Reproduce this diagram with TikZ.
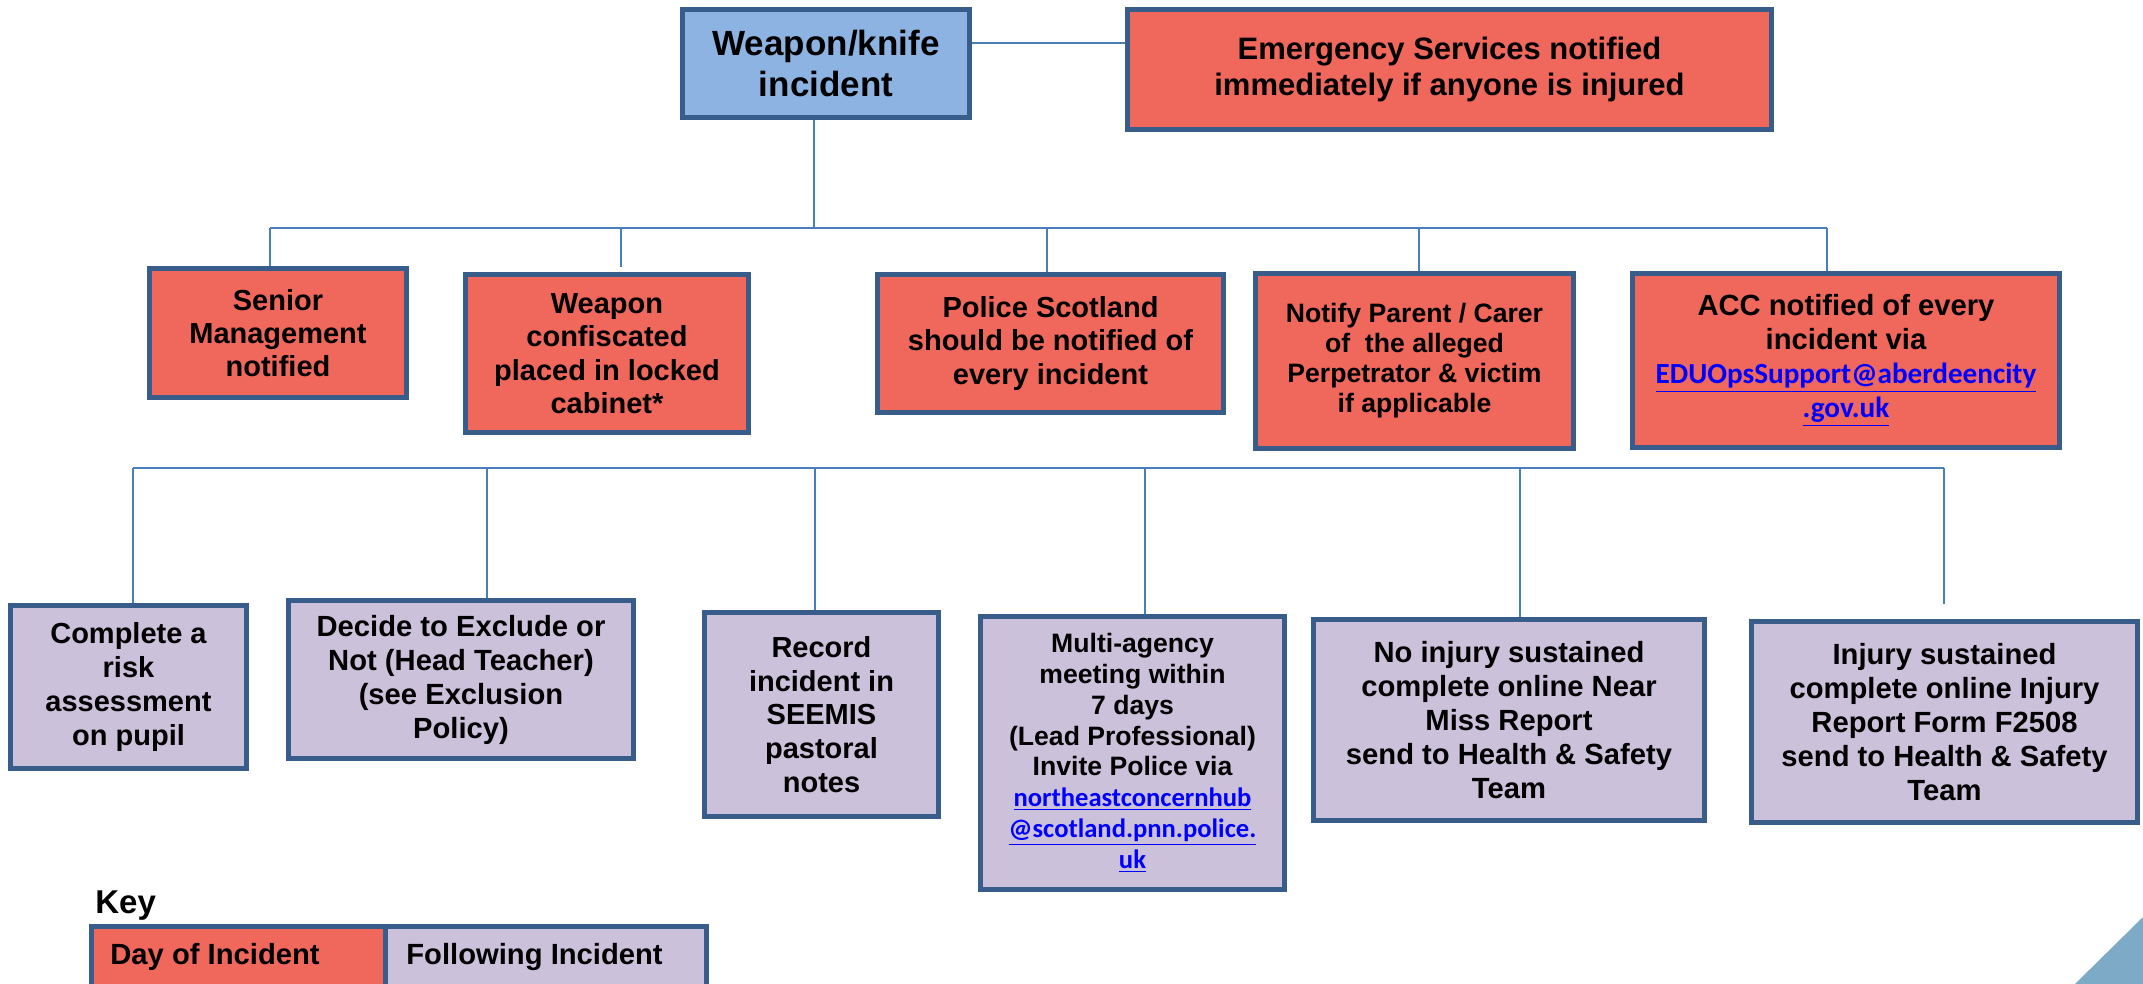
\documentclass[tikz,border=0pt]{standalone}
\usepackage{fontspec}
\setmainfont{Liberation Sans}
\newfontfamily\linkfont{Carlito}
\usepackage{tikz}

\definecolor{boxline}{HTML}{385D8A}
\definecolor{wireblue}{HTML}{4A7EBB}
\definecolor{dayred}{HTML}{F0675C}
\definecolor{laterlilac}{HTML}{CCC1DA}
\definecolor{topblue}{HTML}{8DB3E2}
\definecolor{cornerblue}{HTML}{7DAAC7}
\definecolor{maillink}{HTML}{0000FF}

\newcommand{\maillink}[1]{{\linkfont\color{maillink}\underline{#1}}}

\tikzset{
  flowbox/.style={draw=boxline, line width=2.5pt, align=center, inner sep=0pt},
  daybox/.style={flowbox, fill=dayred},
  laterbox/.style={flowbox, fill=laterlilac},
  wire/.style={draw=wireblue, line width=0.75pt}
}

\begin{document}
\begin{tikzpicture}[x=0.5pt, y=-0.5pt]
        \useasboundingbox (0, 0) rectangle (2143, 984);

        % The incident and the emergency services
        \node[flowbox, fill=topblue, minimum width=143.5pt, minimum height=54pt,
              font=\fontsize{17.5}{20.5}\selectfont\bfseries] (incident) at (826, 63.5)
              {Weapon/knife\\incident};
        \node[daybox, minimum width=322pt, minimum height=60pt,
              font=\fontsize{15.5}{18}\selectfont\bfseries] (emergency) at (1449.5, 69.5)
              {Emergency Services notified\\immediately if anyone is injured};
        \draw[wire] (incident.8) -- (incident.8 -| emergency.west);

        % Day of incident
        \node[daybox, minimum width=128.5pt, minimum height=64.5pt,
              font=\fontsize{14.5}{16.5}\selectfont\bfseries] (senior) at (278, 333)
              {Senior\\Management\\notified};
        \node[daybox, minimum width=141.5pt, minimum height=79pt,
              font=\fontsize{14.5}{16.7}\selectfont\bfseries] (cabinet) at (607, 353.5)
              {Weapon\\confiscated\\placed in locked\\cabinet*};
        \node[daybox, minimum width=173pt, minimum height=69pt,
              font=\fontsize{14.5}{16.7}\selectfont\bfseries] (police) at (1050.5, 343.5)
              {Police Scotland\\should be notified of\\every incident};
        \node[daybox, minimum width=159pt, minimum height=87.5pt,
              font=\fontsize{13.3}{15}\selectfont\bfseries] (parent) at (1414.5, 361)
              {Notify Parent / Carer\\of~ the alleged\\Perpetrator \& victim\\if applicable};
        \node[daybox, minimum width=213.5pt, minimum height=87pt,
              font=\fontsize{14.6}{17}\selectfont\bfseries] (acc) at (1846, 360.5)
              {ACC notified of every\\incident via\\\maillink{EDUOpsSupport@aberdeencity}\\\maillink{.gov.uk}};

        % The first branch
        \coordinate (top1) at (270, 228);
        \coordinate (top2) at (621, 228);
        \coordinate (top3) at (1047, 228);
        \coordinate (top4) at (1419, 228);
        \coordinate (top5) at (1827, 228);
        \coordinate (topmid) at (814, 228);
        \draw[wire] (topmid |- incident.south) -- (topmid);
        \draw[wire] (top1) -- (top5);
        \draw[wire] (top1) -- (top1 |- senior.north);
        \draw[wire] (top2) -- ([yshift=2.5pt]top2 |- cabinet.north);
        \draw[wire] (top3) -- (top3 |- police.north);
        \draw[wire] (top4) -- (top4 |- parent.north);
        \draw[wire] (top5) -- (top5 |- acc.north);

        % Following the incident
        \node[laterbox, minimum width=118pt, minimum height=81.5pt,
              font=\fontsize{14.5}{17}\selectfont\bfseries] (risk) at (128.5, 687)
              {Complete a\\risk\\assessment\\on pupil};
        \node[laterbox, minimum width=172.5pt, minimum height=79pt,
              font=\fontsize{14.6}{17}\selectfont\bfseries] (exclude) at (461, 679.5)
              {Decide to Exclude or\\Not (Head Teacher)\\(see Exclusion\\Policy)};
        \node[laterbox, minimum width=117pt, minimum height=102pt,
              font=\fontsize{14.5}{16.8}\selectfont\bfseries] (seemis) at (821.5, 714.5)
              {Record\\incident in\\SEEMIS\\pastoral\\notes};
        \node[laterbox, minimum width=152pt, minimum height=136.5pt,
              font=\fontsize{13.3}{15.4}\selectfont\bfseries] (meeting) at (1132.5, 753)
              {Multi-agency\\meeting within\\7 days\\(Lead Professional)\\Invite Police via\\
               \maillink{northeastconcernhub}\\\maillink{@scotland.pnn.police.}\\\maillink{uk}};
        \node[laterbox, minimum width=195.5pt, minimum height=100.5pt,
              font=\fontsize{14.6}{17}\selectfont\bfseries] (nearmiss) at (1509, 720)
              {No injury sustained\\complete online Near\\Miss Report\\send to Health \& Safety\\Team};
        \node[laterbox, minimum width=193pt, minimum height=100.5pt,
              font=\fontsize{14.6}{17}\selectfont\bfseries] (injury) at (1944.5, 722)
              {Injury sustained\\complete online Injury\\Report Form F2508\\send to Health \& Safety\\Team};

        % The second branch
        \coordinate (low1) at (133, 468);
        \coordinate (low2) at (487, 468);
        \coordinate (low3) at (815, 468);
        \coordinate (low4) at (1145, 468);
        \coordinate (low5) at (1520, 468);
        \coordinate (low6) at (1944, 468);
        \draw[wire] (low1) -- (low6);
        \draw[wire] (low1) -- (low1 |- risk.north);
        \draw[wire] (low2) -- (low2 |- exclude.north);
        \draw[wire] (low3) -- (low3 |- seemis.north);
        \draw[wire] (low4) -- (low4 |- meeting.north);
        \draw[wire] (low5) -- (low5 |- nearmiss.north);
        \draw[wire] (low6) -- ([yshift=7.5pt]low6 |- injury.north);

        % The key
        \node[anchor=base west, inner sep=0pt, font=\fontsize{16.5}{19}\selectfont\bfseries]
              (keytitle) at (95, 913) {Key};
        \node[daybox, anchor=north west, minimum width=147.5pt, minimum height=45pt]
              (keyday) at (88.5, 923.5) {};
        \node[laterbox, anchor=north west, minimum width=160.5pt, minimum height=45pt]
              (keylater) at (382.5, 923.5) {};
        \node[anchor=base west, inner sep=0pt, font=\fontsize{14.6}{17}\selectfont\bfseries]
              (keydaytext) at (110, 964) {Day of Incident};
        \node[anchor=base west, inner sep=0pt, font=\fontsize{14.6}{17}\selectfont\bfseries]
              (keylatertext) at (406, 964) {Following Incident};

        % The corner
        \fill[cornerblue] (2075, 984) -- (2143, 917) -- (2143, 984) -- cycle;
    \end{tikzpicture}
\end{document}
